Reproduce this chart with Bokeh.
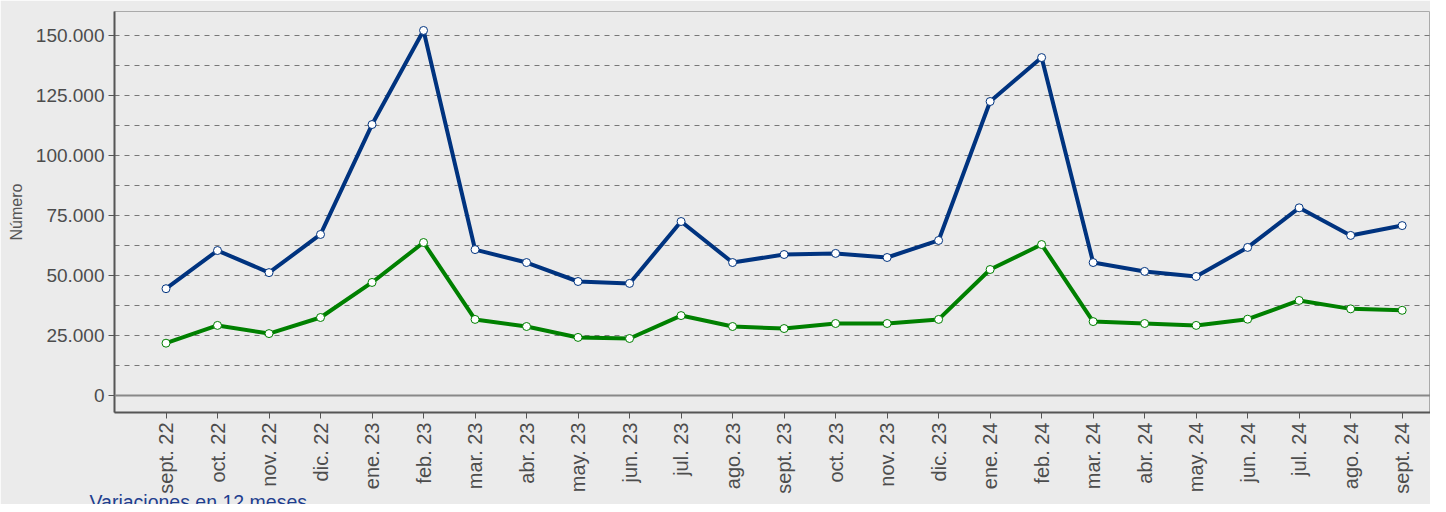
from bokeh.plotting import figure
from bokeh.models import Range1d, FixedTicker, Span, Title
from bokeh.embed import file_html
from bokeh.resources import INLINE

months = ["sept. 22", "oct. 22", "nov. 22", "dic. 22", "ene. 23", "feb. 23", "mar. 23",
          "abr. 23", "may. 23", "jun. 23", "jul. 23", "ago. 23", "sept. 23", "oct. 23",
          "nov. 23", "dic. 23", "ene. 24", "feb. 24", "mar. 24", "abr. 24", "may. 24",
          "jun. 24", "jul. 24", "ago. 24", "sept. 24"]

serie_azul = [44500, 60400, 51200, 67100, 112900, 152100, 60800, 55400, 47500, 46700,
              72500, 55400, 58750, 59200, 57500, 64600, 122500, 140800, 55400, 51700,
              49600, 61700, 78200, 66700, 70800]

serie_verde = [21800, 29200, 25800, 32500, 47100, 63750, 31700, 28750, 24200, 23750,
               33300, 28750, 27900, 30000, 30000, 31700, 52500, 62900, 30800, 30000,
               29200, 31800, 39600, 36100, 35500]

y_ticks = [0, 25000, 50000, 75000, 100000, 125000, 150000]
y_minor = [12500, 37500, 62500, 87500, 112500, 137500]
y_labels = ["0", "25.000", "50.000", "75.000", "100.000", "125.000", "150.000"]

x_idx = list(range(len(months)))

BG = "#ebebeb"
FONT = "Liberation Sans"

p = figure(width=1430, height=504, output_backend="svg", toolbar_location=None,
           x_range=Range1d(-1, 24.55), y_range=Range1d(-7083, 160000),
           min_border_left=114, min_border_right=0, min_border_top=11, min_border_bottom=92)
p.background_fill_color = BG
p.border_fill_color = BG
p.outline_line_color = "#aaaaaa"
p.outline_line_width = 1

# axes
p.xaxis.ticker = FixedTicker(ticks=x_idx)
p.xaxis.major_label_overrides = {i: m for i, m in zip(x_idx, months)}
p.xaxis.major_label_orientation = 1.5708
p.yaxis.ticker = FixedTicker(ticks=y_ticks, minor_ticks=y_minor)
p.yaxis.major_label_overrides = {v: s for v, s in zip(y_ticks, y_labels)}
p.yaxis.axis_label = "Número"

for ax in (p.xaxis, p.yaxis):
    ax.axis_line_color = "#555555"
    ax.axis_line_width = 2
    ax.major_tick_line_color = "#555555"
    ax.major_tick_out = 6
    ax.major_tick_in = 0
    ax.minor_tick_line_color = None
    ax.major_label_text_font = FONT
    ax.major_label_text_color = "#4d4d4d"
    ax.major_label_standoff = 4
p.yaxis.major_label_text_font_size = "19px"
p.xaxis.major_label_text_font_size = "20px"
p.yaxis.axis_label_text_font = FONT
p.yaxis.axis_label_text_font_size = "16px"
p.yaxis.axis_label_text_font_style = "normal"
p.yaxis.axis_label_text_color = "#555555"
p.yaxis.axis_label_standoff = 8

p.xgrid.grid_line_color = None
p.ygrid.grid_line_color = "#777777"
p.ygrid.grid_line_dash = "5 5"
p.ygrid.grid_line_width = 1
p.ygrid.minor_grid_line_color = "#777777"
p.ygrid.minor_grid_line_dash = "5 5"
p.ygrid.minor_grid_line_width = 1

p.add_layout(Span(location=0, dimension="width", line_color="#888888", line_width=2))

p.line(x_idx, serie_azul, line_color="#00337f", line_width=4)
p.scatter(x_idx, serie_azul, size=8, marker="circle", fill_color="white",
          line_color="#00337f", line_width=1)
p.line(x_idx, serie_verde, line_color="#008000", line_width=4)
p.scatter(x_idx, serie_verde, size=8, marker="circle", fill_color="white",
          line_color="#008000", line_width=1)

p.add_layout(Title(text="Variaciones en 12 meses", align="left", offset=-25,
                   standoff=-16, text_font=FONT, text_font_size="19.5px",
                   text_font_style="normal", text_color="#1f3f8f"), "below")

open("out.html", "w").write(file_html(p, INLINE))
